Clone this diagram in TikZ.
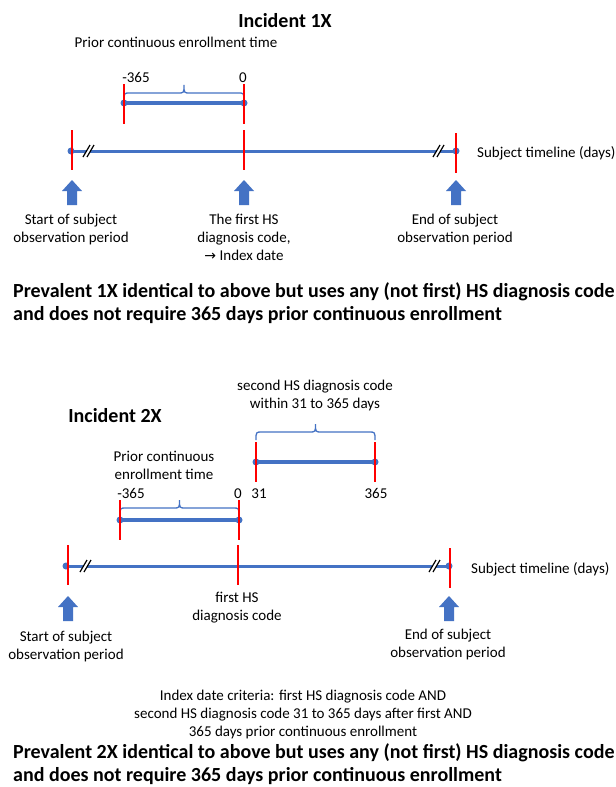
\documentclass[tikz,border=0pt]{standalone}
\usepackage{fontspec}
\setmainfont{Carlito}
\newfontfamily\symfont{DejaVu Sans}
\definecolor{tlblue}{HTML}{4472C4}
\definecolor{tlred}{HTML}{FF0000}
\newcommand{\mybrace}[3]{%
  \pgfmathsetmacro\brmid{(#1+#2)/2}%
  \draw[bracestyle] (#1,#3+8) .. controls (#1,#3) .. (#1+6,#3) -- (\brmid-6,#3)
    .. controls (\brmid,#3) .. (\brmid,#3-8) .. controls (\brmid,#3) .. (\brmid+6,#3)
    -- (#2-6,#3) .. controls (#2,#3) .. (#2,#3+8);}
\begin{document}
\begin{tikzpicture}[x=1bp,y=-1bp,
  reg/.style={font=\fontsize{15bp}{18bp}\selectfont, inner sep=0pt},
  bld/.style={font=\fontsize{20bp}{23bp}\selectfont\bfseries, inner sep=0pt},
  tline/.style={draw=tlblue, line width=3bp},
  barline/.style={draw=tlblue, line width=3.2bp},
  redmark/.style={draw=tlred, line width=2.5bp},
  dotfill/.style={fill=tlblue},
  bracestyle/.style={draw=tlblue, line width=1.3bp},
  uparrow/.pic={\fill[tlblue] (0,0) -- (10,11) -- (5,11) -- (5,25) -- (-5,25) -- (-5,11) -- (-10,11) -- cycle;},
  breakmark/.pic={\fill[white] (-6,6) -- (1,-6) -- (5,-6) -- (-2,6) -- cycle;
    \draw[black, line width=1.2bp] (-6,6) -- (1,-6); \draw[black, line width=1.2bp] (-2,6) -- (5,-6);}
]
\useasboundingbox (0,0) rectangle (616,787);
\fill[white] (0,0) rectangle (616,787);

% ---------------- Incident 1X ----------------
\node[bld, anchor=base] (t1) at (285,27.3) {Incident 1X};
\node[reg, anchor=base] (pce1) at (176,48) {Prior continuous enrollment time};
\node[reg, anchor=base] (n365a) at (136,82) {-365};
\node[reg, anchor=base] (n0a) at (243,82) {0};

\mybrace{124}{244}{93}
\coordinate (b1s) at (124,103);
\coordinate (b1e) at (244,103);
\draw[barline] (b1s) -- (b1e);
\fill[dotfill] (b1s) circle (3.5);
\fill[dotfill] (b1e) circle (3.5);
\draw[redmark] (124,84) -- (124,124);
\draw[redmark] (244,84) -- (244,124);

\coordinate (s1) at (71,151);
\coordinate (e1) at (456,151);
\draw[tline] (s1) -- (e1);
\fill[dotfill] (s1) circle (3.5);
\fill[dotfill] (e1) circle (3.5);
\pic at (89,151) {breakmark};
\pic at (439,151) {breakmark};
\draw[redmark] (72,130) -- (72,170);
\draw[redmark] (244,130) -- (244,170);
\draw[redmark] (456,133) -- (456,173);

\pic at (72,180) {uparrow};
\pic at (244,180) {uparrow};
\pic at (456,180) {uparrow};

\node[reg, anchor=north, align=center] (st1) at (71,211.2) {\strut Start of subject\\observation period};
\node[reg, anchor=north, align=center] (fh1) at (244,211.2) {\strut The first HS\\diagnosis code,\\{\symfont\fontsize{14bp}{18bp}\selectfont →} Index date};
\node[reg, anchor=north, align=center] (en1) at (455,211.2) {\strut End of subject\\observation period};
\node[reg, anchor=base west] (stl1) at (477,157) {Subject timeline (days)};

\node[bld, anchor=base west] (p1a) at (13,297.3) {Prevalent 1X identical to above but uses any (not first) HS diagnosis code};
\node[bld, anchor=base west] (p1b) at (13,320.3) {and does not require 365 days prior continuous enrollment};

% ---------------- Incident 2X ----------------
\node[reg, anchor=north, align=center] (sec2) at (315,377.2) {\strut second HS diagnosis code\\within 31 to 365 days};
\node[bld, anchor=base] (t2) at (115,422.3) {Incident 2X};
\node[reg, anchor=north, align=center] (pce2) at (164,448.2) {\strut Prior continuous\\enrollment time};

\mybrace{256}{375}{432}
\coordinate (b3s) at (256,462);
\coordinate (b3e) at (375,462);
\draw[barline] (b3s) -- (b3e);
\fill[dotfill] (b3s) circle (3.5);
\fill[dotfill] (b3e) circle (3.5);
\draw[redmark] (256,442) -- (256,482);
\draw[redmark] (375,442) -- (375,482);

\node[reg, anchor=base] (n365b) at (131,498) {-365};
\node[reg, anchor=base] (n0b) at (238,498) {0};
\node[reg, anchor=base] (n31) at (259,498) {31};
\node[reg, anchor=base] (n365c) at (376,498) {365};

\mybrace{120}{239}{508}
\coordinate (b2s) at (120,520);
\coordinate (b2e) at (239,520);
\draw[barline] (b2s) -- (b2e);
\fill[dotfill] (b2s) circle (3.5);
\fill[dotfill] (b2e) circle (3.5);
\draw[redmark] (120,500) -- (120,540);
\draw[redmark] (239,500) -- (239,540);

\coordinate (s2) at (66,566);
\coordinate (e2) at (449,566);
\draw[tline] (s2) -- (e2);
\fill[dotfill] (s2) circle (3.5);
\fill[dotfill] (e2) circle (3.5);
\pic at (86,566) {breakmark};
\pic at (435,566) {breakmark};
\draw[redmark] (68,545) -- (68,585);
\draw[redmark] (238,545) -- (238,585);
\draw[redmark] (450,548) -- (450,588);

\pic at (68,596) {uparrow};
\pic at (449,596) {uparrow};

\node[reg, anchor=north, align=center] (fh2) at (237,589.2) {\strut first HS\\diagnosis code};
\node[reg, anchor=north, align=center] (st2) at (66,628.2) {\strut Start of subject\\observation period};
\node[reg, anchor=north, align=center] (en2) at (448,626.2) {\strut End of subject\\observation period};
\node[reg, anchor=base west] (stl2) at (471,573) {Subject timeline (days)};

\node[reg, anchor=north, align=center] (idx) at (303,687.2) {\strut Index date criteria: first HS diagnosis code AND\\second HS diagnosis code 31 to 365 days after first AND\\365 days prior continuous enrollment};

\node[bld, anchor=base west] (p2a) at (13,758.3) {Prevalent 2X identical to above but uses any (not first) HS diagnosis code};
\node[bld, anchor=base west] (p2b) at (13,781.3) {and does not require 365 days prior continuous enrollment};
\end{tikzpicture}
\end{document}
